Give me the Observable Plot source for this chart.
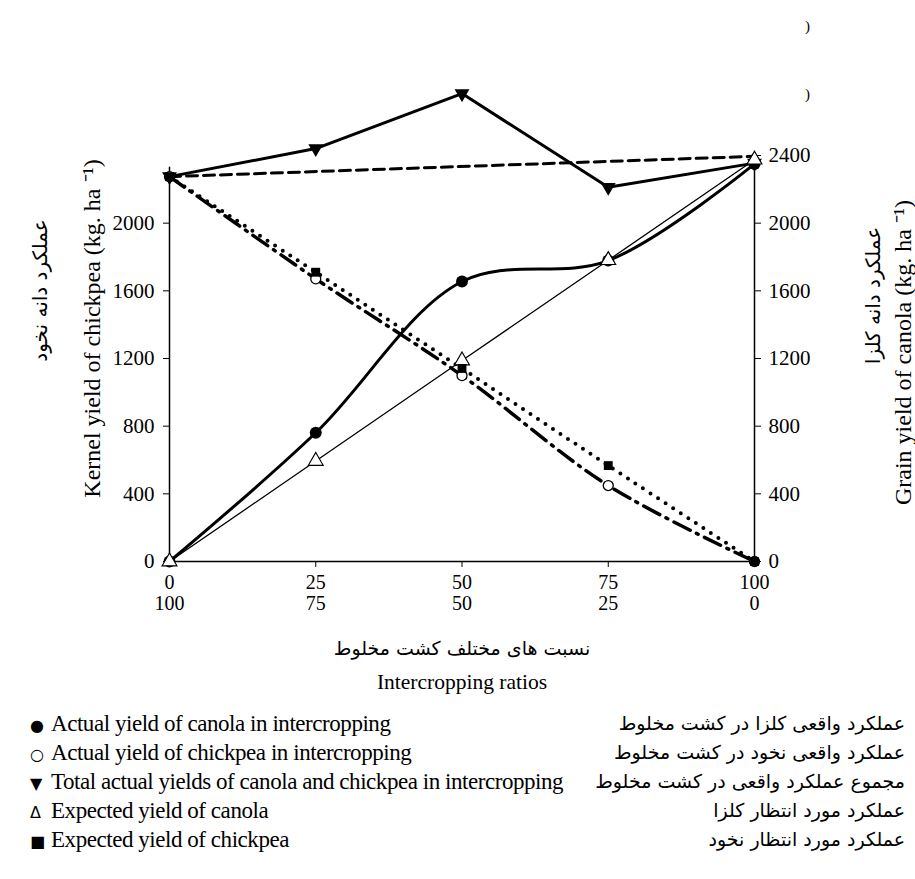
<!DOCTYPE html>
<html>
<head>
<meta charset="utf-8">
<script src="https://cdn.jsdelivr.net/npm/d3@7"></script>
<script src="https://cdn.jsdelivr.net/npm/@observablehq/plot@0.6"></script>
<style>
  body { margin: 0; background: #fff; }
  #chart svg { display: block; overflow: visible; }
  #legend { position: relative; width: 915px; height: 174px; font-family: "Liberation Serif", "Times New Roman", serif; color: #000; }
  .row { position: absolute; left: 0; width: 915px; height: 29px; line-height: 29px; }
  .en { position: absolute; left: 30px; font-size: 23px; letter-spacing: -0.45px; white-space: nowrap; }
  .sym { font-size: 16px; display: inline-block; width: 21px; font-family: "DejaVu Sans", sans-serif; }
  .fa { position: absolute; right: 10px; direction: rtl; font-family: "DejaVu Sans", sans-serif; font-size: 19px; white-space: nowrap; }
</style>
</head>
<body>
<div id="chart"></div>
<div id="legend"></div>
<script>
// ---- data ----
const ratios = [0, 25, 50, 75, 100];
const canolaShare = ["0", "25", "50", "75", "100"];
const chickpeaShare = ["100", "75", "50", "25", "0"];
const actualCanola = [0, 761, 1655, 1779, 2350];
const expectedCanola = [0, 594, 1188, 1781, 2375];
const actualChickpea = [2275, 1671, 1099, 449, 0];
const expectedChickpea = [2275, 1710, 1141, 567, 0];
const totalActual = [2275, 2441, 2766, 2212, 2355];
const sumLineRatios = [0, 100];
const sumLineValues = [2275, 2395];
const leftTicks = [0, 400, 800, 1200, 1600, 2000];
const rightTicks = [0, 400, 800, 1200, 1600, 2000, 2400];

const leftTitleEn = "Kernel yield of chickpea (kg. ha \u207B\u00B9)";
const leftTitleFa = "عملکرد دانه نخود";
const rightTitleEn = "Grain yield of canola (kg. ha \u207B\u00B9)";
const rightTitleFa = "عملکرد دانه کلزا";
const xTitleFa = "نسبت های مختلف کشت مخلوط";
const xTitleEn = "Intercropping ratios";

const legendSymbols = ["●", "○", "▼", "Δ", "■"];
const legendEn = [
  "Actual yield of canola in intercropping",
  "Actual yield of chickpea in intercropping",
  "Total actual yields of canola and chickpea in intercropping",
  "Expected yield of canola",
  "Expected yield of chickpea"
];
const legendFa = [
  "عملکرد واقعی کلزا در کشت مخلوط",
  "عملکرد واقعی نخود در کشت مخلوط",
  "مجموع عملکرد واقعی در کشت مخلوط",
  "عملکرد مورد انتظار کلزا",
  "عملکرد مورد انتظار نخود"
];

// ---- build tables ----
const rows = (xs, ys) => xs.map((x, i) => ({ x, y: ys[i] }));
const aCanola = rows(ratios, actualCanola);
const eCanola = rows(ratios, expectedCanola);
const aChick = rows(ratios, actualChickpea);
const eChick = rows(ratios, expectedChickpea);
const total = rows(ratios, totalActual);
const sumLine = rows(sumLineRatios, sumLineValues);

const serif = "'Liberation Serif', 'Times New Roman', serif";
const faFont = "'DejaVu Sans', sans-serif";
const num = d => String(d);

const chart = Plot.plot({
  width: 915,
  height: 705,
  marginLeft: 169,
  marginRight: 161,
  marginTop: 155,
  marginBottom: 144,
  style: { fontFamily: serif, fontSize: "20px", color: "black", background: "white", overflow: "visible" },
  x: { domain: [0, 100] },
  y: { domain: [0, 2400] },
  marks: [
    // axis lines
    Plot.ruleY([0], { stroke: "black", strokeWidth: 1.5 }),
    Plot.ruleX([{ x: 0, a: 0, b: 2330 }], { x: "x", y1: "a", y2: "b", stroke: "black", strokeWidth: 1.5 }),
    Plot.ruleX([{ x: 100, a: 0, b: 2400 }], { x: "x", y1: "a", y2: "b", stroke: "black", strokeWidth: 1.5 }),
    Plot.axisY({ anchor: "left", ticks: leftTicks, tickFormat: num, tickSize: 6, tickPadding: 9, label: null, fontSize: 21, letterSpacing: "-1.3px" }),
    Plot.axisY({ anchor: "right", ticks: rightTicks, tickFormat: num, tickSize: 6, tickPadding: 8, label: null, fontSize: 21, letterSpacing: "-1.3px" }),
    Plot.axisX({ ticks: ratios, tickSize: 6, tickFormat: () => "", label: null }),
    Plot.text(ratios, { x: d => d, frameAnchor: "bottom", dy: 27, text: d => canolaShare[ratios.indexOf(d)], fontSize: 20, letterSpacing: "-1.2px" }),
    Plot.text(ratios, { x: d => d, frameAnchor: "bottom", dy: 48, text: d => chickpeaShare[ratios.indexOf(d)], fontSize: 20, letterSpacing: "-1.2px" }),
    // axis titles
    Plot.text([xTitleFa], { frameAnchor: "bottom", dy: 93, text: d => d, fontFamily: faFont, fontSize: 19 }),
    Plot.text([xTitleEn], { frameAnchor: "bottom", dy: 127, text: d => d, fontSize: 21.5 }),
    Plot.text([leftTitleEn], { frameAnchor: "left", textAnchor: "middle", dx: -77, dy: -30, rotate: -90, text: d => d, fontSize: 24 }),
    Plot.text([leftTitleFa], { frameAnchor: "left", textAnchor: "middle", dx: -129, dy: -68, rotate: -90, text: d => d, fontFamily: faFont, fontSize: 20 }),
    Plot.text([rightTitleEn], { frameAnchor: "right", textAnchor: "middle", dx: 149, dy: -6, rotate: -90, text: d => d, fontSize: 24 }),
    Plot.text([rightTitleFa], { frameAnchor: "right", textAnchor: "middle", dx: 119, dy: -63, rotate: -90, text: d => d, fontFamily: faFont, fontSize: 20 }),
    Plot.text([")"], { frameAnchor: "top-right", textAnchor: "middle", dx: 53, dy: -135, text: d => d, fontSize: 15 }),
    Plot.text([")"], { frameAnchor: "top-right", textAnchor: "middle", dx: 53, dy: -67, text: d => d, fontSize: 15 }),
    // lines
    Plot.line(sumLine, { x: "x", y: "y", stroke: "black", strokeWidth: 3, strokeDasharray: "11,6" }),
    Plot.line(eCanola, { x: "x", y: "y", stroke: "black", strokeWidth: 1.3 }),
    Plot.line(eChick, { x: "x", y: "y", stroke: "black", strokeWidth: 4, strokeDasharray: "0,9", strokeLinecap: "round", curve: "catmull-rom" }),
    Plot.line(aChick, { x: "x", y: "y", stroke: "black", strokeWidth: 3.5, strokeDasharray: "18,7,2,7", curve: "catmull-rom" }),
    Plot.line(aCanola, { x: "x", y: "y", stroke: "black", strokeWidth: 3, curve: "catmull-rom" }),
    Plot.line(total, { x: "x", y: "y", stroke: "black", strokeWidth: 3 }),
    // markers
    Plot.dot(total, { x: "x", y: "y", symbol: "triangle", r: 5.5, fill: "black", rotate: 180 }),
    Plot.dot(aCanola, { x: "x", y: "y", symbol: "circle", r: 6, fill: "black" }),
    Plot.dot(aChick, { x: "x", y: "y", symbol: "circle", r: 5, stroke: "black", strokeWidth: 1.3, fill: "white" }),
    Plot.dot(eCanola, { x: "x", y: "y", symbol: "triangle", r: 5.5, stroke: "black", strokeWidth: 1.2, fill: "white" }),
    Plot.dot(eChick, { x: "x", y: "y", symbol: "square", r: 5, fill: "black" })
  ]
});
document.getElementById("chart").appendChild(chart);

// legend
const legend = document.getElementById("legend");
legendEn.forEach((t, i) => {
  const row = document.createElement("div");
  row.className = "row";
  row.style.top = (4 + i * 29) + "px";
  const en = document.createElement("span");
  en.className = "en";
  const sym = document.createElement("span");
  sym.className = "sym";
  sym.textContent = legendSymbols[i];
  en.appendChild(sym);
  en.appendChild(document.createTextNode(t));
  const fa = document.createElement("span");
  fa.className = "fa";
  fa.textContent = legendFa[i];
  row.appendChild(en);
  row.appendChild(fa);
  legend.appendChild(row);
});
</script>
</body>
</html>
